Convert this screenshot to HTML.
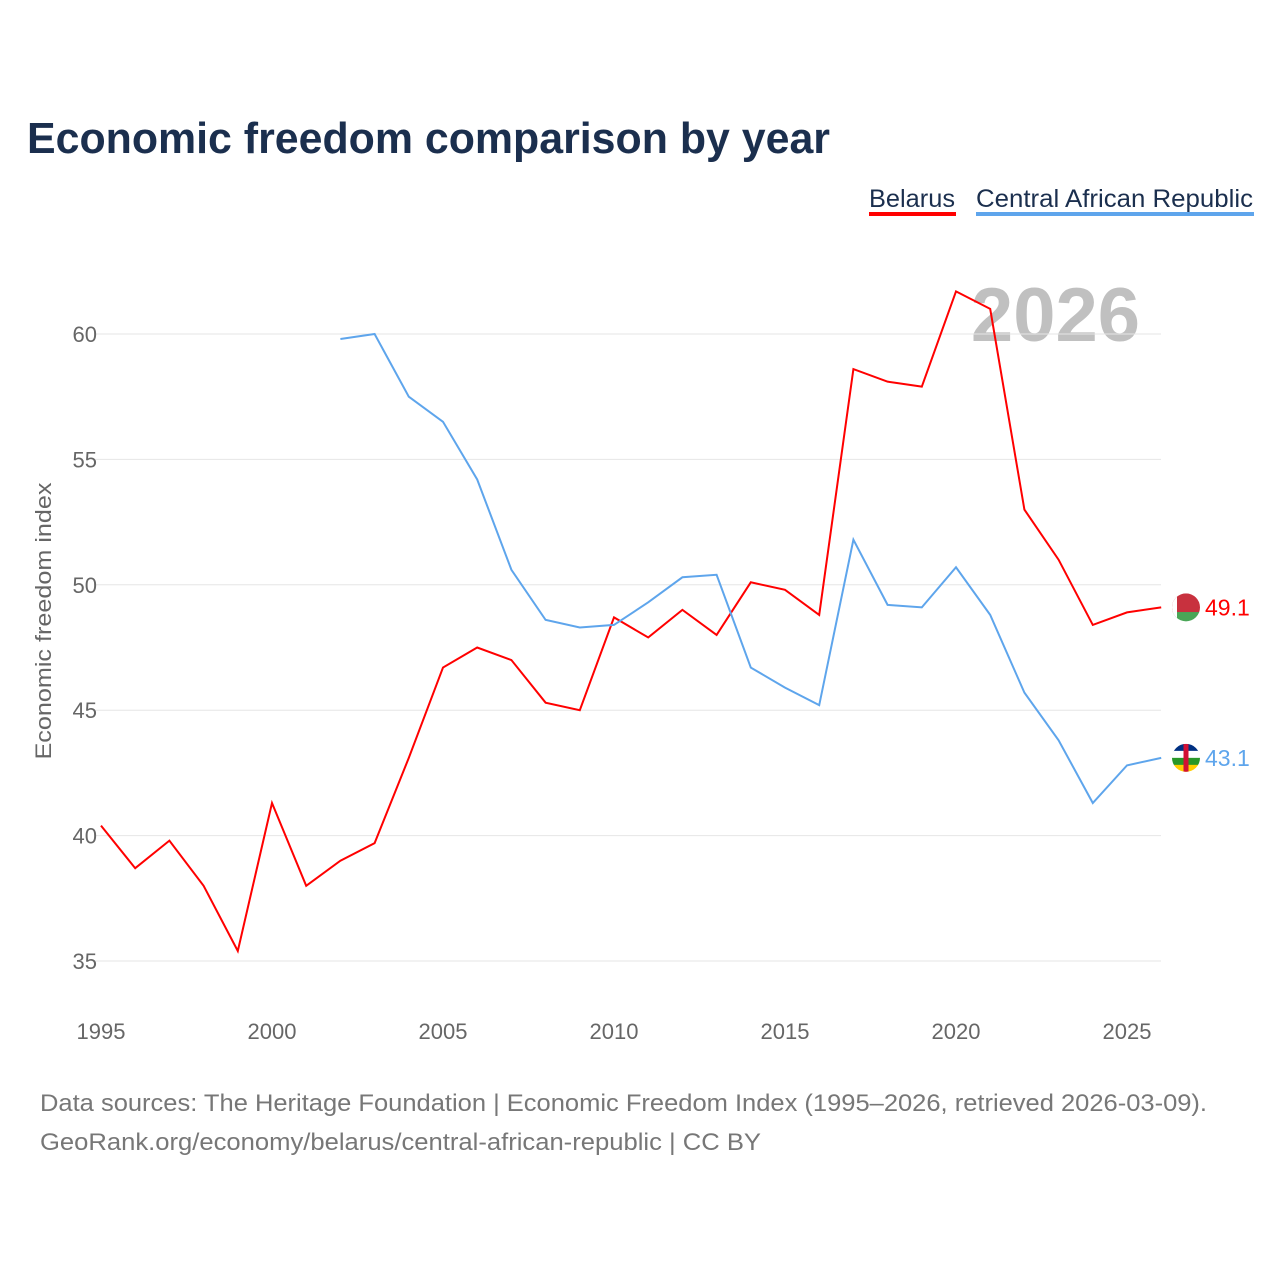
<!DOCTYPE html>
<html><head><meta charset="utf-8"><style>
body{margin:0;background:#fff;font-family:"Liberation Sans",sans-serif}
</style></head><body>
<svg width="1280" height="1280" xmlns="http://www.w3.org/2000/svg" id="svg">
<rect width="1280" height="1280" fill="#fff"/>
<text x="27" y="153" font-size="44" font-weight="bold" fill="#1b2f4e" textLength="803" lengthAdjust="spacingAndGlyphs">Economic freedom comparison by year</text>
<g>
<text x="869" y="207" font-size="25" fill="#1b2f4e" textLength="86" lengthAdjust="spacingAndGlyphs">Belarus</text>
<rect x="869" y="212" width="87" height="4" fill="#f00"/>
<text x="976" y="207" font-size="25" fill="#1b2f4e" textLength="277" lengthAdjust="spacingAndGlyphs">Central African Republic</text>
<rect x="976" y="212" width="278" height="4" fill="#5ea5ec"/>
</g>
<text x="1140" y="341" font-size="76" font-weight="bold" fill="#c0c0c0" text-anchor="end">2026</text>
<text transform="translate(51,621) rotate(-90)" font-size="22" fill="#666" text-anchor="middle" textLength="277" lengthAdjust="spacingAndGlyphs">Economic freedom index</text>
<g id="grid"></g><g id="lines"></g>
<text x="40" y="1111" font-size="24" fill="#777" textLength="1167" lengthAdjust="spacingAndGlyphs">Data sources: The Heritage Foundation | Economic Freedom Index (1995–2026, retrieved 2026-03-09).</text>
<text x="40" y="1150" font-size="24" fill="#777" textLength="721" lengthAdjust="spacingAndGlyphs">GeoRank.org/economy/belarus/central-african-republic | CC BY</text>
</svg>
<script>
const years=[1995,1996,1997,1998,1999,2000,2001,2002,2003,2004,2005,2006,2007,2008,2009,2010,2011,2012,2013,2014,2015,2016,2017,2018,2019,2020,2021,2022,2023,2024,2025,2026];
const belarus=[40.4,38.7,39.8,38.0,35.4,41.3,38.0,39.0,39.7,43.1,46.7,47.5,47.0,45.3,45.0,48.7,47.9,49.0,48.0,50.1,49.8,48.8,58.6,58.1,57.9,61.7,61.0,53.0,51.0,48.4,48.9,49.1];
const car=[null,null,null,null,null,null,null,59.8,60.0,57.5,56.5,54.2,50.6,48.6,48.3,48.4,49.3,50.3,50.4,46.7,45.9,45.2,51.8,49.2,49.1,50.7,48.8,45.7,43.8,41.3,42.8,43.1];
const yTicks=[35,40,45,50,55,60];
const xTicks=[1995,2000,2005,2010,2015,2020,2025];
const NS="http://www.w3.org/2000/svg";
const X=y=>101+(y-1995)*34.2;
const Y=v=>334+(60-v)*25.08;
const grid=document.getElementById('grid'),lines=document.getElementById('lines');
function mk(t,a,p){const e=document.createElementNS(NS,t);for(const k in a)e.setAttribute(k,a[k]);p.appendChild(e);return e;}
yTicks.forEach(v=>{
 const l=mk('line',{x1:95,x2:1161,y1:Y(v),y2:Y(v),stroke:'#e6e6e6','stroke-width':1},grid);
 
 
 const t=mk('text',{x:97,y:Y(v)+8,'font-size':22,fill:'#666','text-anchor':'end'},grid);t.textContent=v;
 
 
});
xTicks.forEach(v=>{
 const t=mk('text',{x:X(v),y:1039,'font-size':22,fill:'#666','text-anchor':'middle'},grid);t.textContent=v;
 
 
});
function flag(cx,cy,stripes,name){
 const g=mk('g',{},lines);
 
 
 const id='clip-'+name;
 const cp=mk('clipPath',{id:id},g);mk('circle',{cx:cx,cy:cy,r:14},cp);
 const h=28/stripes.length;
 stripes.forEach((c,i)=>mk('rect',{x:cx-14,y:cy-14+i*h,width:28,height:h+0.5,fill:c,'clip-path':'url(#'+id+')'},g));
 return g;
}
function line(vals,col,name,stripes,extra){
 let d='';vals.forEach((v,i)=>{if(v==null)return;d+=(d?'L':'M')+X(years[i])+','+Y(v);});
 const p=mk('path',{d:d,fill:'none',stroke:col,'stroke-width':2},lines);
 
 
 const last=vals[vals.length-1],cy=Y(last),cx=1186;
 const g=flag(cx,cy,stripes,name);
 if(extra)extra(g,cx,cy);
 const t=mk('text',{x:1205,y:cy+8,'font-size':23,fill:col},lines);t.textContent=last.toFixed(1);
 
 
}
line(belarus,'#f00','belarus',['#c8313e','#c8313e','#4aa657'],(g,cx,cy)=>mk('rect',{x:cx-14,y:cy-14,width:5,height:28,fill:'#fff','clip-path':'url(#clip-belarus)'},g));
line(car,'#5ea5ec','car',['#003082','#fff','#289728','#ffce00'],(g,cx,cy)=>mk('rect',{x:cx-2.5,y:cy-14,width:5,height:28,fill:'#d21034','clip-path':'url(#clip-car)'},g));
</script>
</body></html>
